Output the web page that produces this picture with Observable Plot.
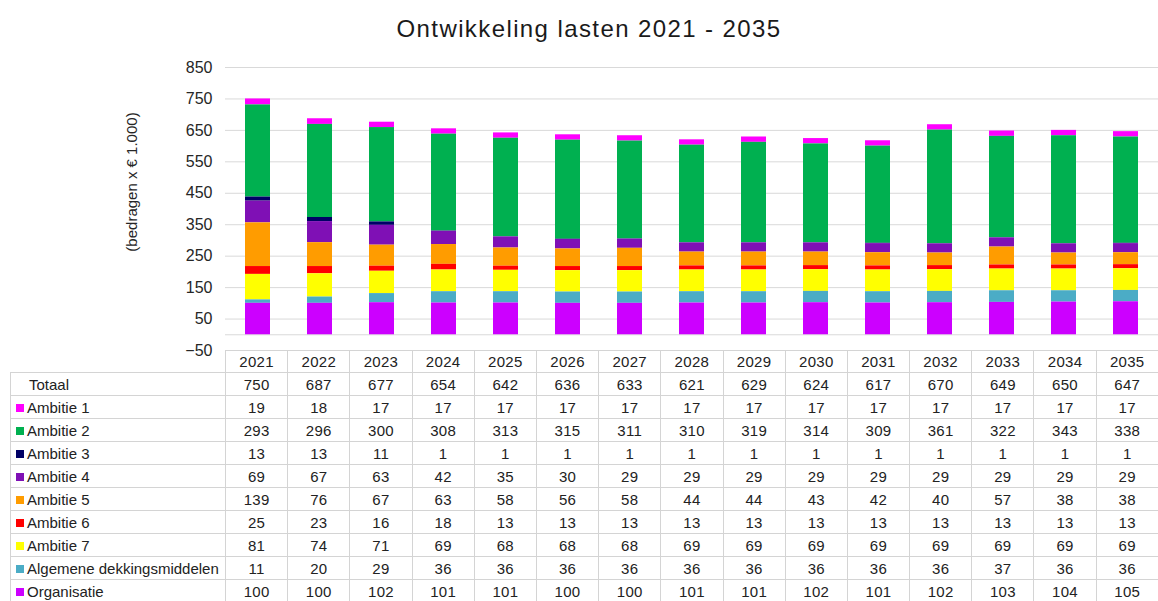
<!DOCTYPE html>
<html>
<head>
<meta charset="utf-8">
<script src="https://cdn.jsdelivr.net/npm/d3@7"></script>
<script src="https://cdn.jsdelivr.net/npm/@observablehq/plot@0.6"></script>
<style>
  html, body { margin: 0; padding: 0; background: #fff; }
  body { width: 1158px; height: 601px; position: relative; overflow: hidden; font-family: "Liberation Sans", Arial, sans-serif; }
  #title { position: absolute; top: 17px; left: 0; width: 1178px; text-align: center; font-size: 24px; line-height: 24px; letter-spacing: 1.4px; color: #1a1a1a; }
  #chart { position: absolute; top: 50px; left: 0; }
  #tbl { position: absolute; top: 350px; left: 10px; border-collapse: collapse; table-layout: fixed; width: 1148px; font-size: 15px; color: #222; letter-spacing: 0.3px; }
  #tbl td { border: 1px solid #d4d4d4; padding: 0; text-align: center; height: 22px; white-space: nowrap; overflow: hidden; }
  #tbl tr.hdr td { height: 21px; }
  #tbl td.lab { text-align: left; padding-left: 5px; letter-spacing: 0; }
  #tbl td.empty { border-top: none; border-left: none; }
  .sw { display: inline-block; width: 8px; height: 8px; margin-right: 3px; vertical-align: 1px; }
</style>
</head>
<body>
<div id="title"></div>
<div id="chart"></div>
<table id="tbl"></table>
<script>
const titleText = "Ontwikkeling lasten 2021 - 2035";
const yLabel = "(bedragen x € 1.000)";
const years = [2021, 2022, 2023, 2024, 2025, 2026, 2027, 2028, 2029, 2030, 2031, 2032, 2033, 2034, 2035];
const totaal      = [750, 687, 677, 654, 642, 636, 633, 621, 629, 624, 617, 670, 649, 650, 647];
const ambitie1    = [19, 18, 17, 17, 17, 17, 17, 17, 17, 17, 17, 17, 17, 17, 17];
const ambitie2    = [293, 296, 300, 308, 313, 315, 311, 310, 319, 314, 309, 361, 322, 343, 338];
const ambitie3    = [13, 13, 11, 1, 1, 1, 1, 1, 1, 1, 1, 1, 1, 1, 1];
const ambitie4    = [69, 67, 63, 42, 35, 30, 29, 29, 29, 29, 29, 29, 29, 29, 29];
const ambitie5    = [139, 76, 67, 63, 58, 56, 58, 44, 44, 43, 42, 40, 57, 38, 38];
const ambitie6    = [25, 23, 16, 18, 13, 13, 13, 13, 13, 13, 13, 13, 13, 13, 13];
const ambitie7    = [81, 74, 71, 69, 68, 68, 68, 69, 69, 69, 69, 69, 69, 69, 69];
const algemene    = [11, 20, 29, 36, 36, 36, 36, 36, 36, 36, 36, 36, 37, 36, 36];
const organisatie = [100, 100, 102, 101, 101, 100, 100, 101, 101, 102, 101, 102, 103, 104, 105];
const yTicks = [-50, 50, 150, 250, 350, 450, 550, 650, 750, 850];

// table order (top to bottom) and colours
const seriesNames = ["Ambitie 1", "Ambitie 2", "Ambitie 3", "Ambitie 4", "Ambitie 5", "Ambitie 6", "Ambitie 7", "Algemene dekkingsmiddelen", "Organisatie"];
const seriesValues = [ambitie1, ambitie2, ambitie3, ambitie4, ambitie5, ambitie6, ambitie7, algemene, organisatie];
const seriesColors = ["#FF00FF", "#00B050", "#000066", "#7F10B5", "#FF9C00", "#FF0000", "#FFFF00", "#4BACC6", "#CC00FF"];
const stackOrder = seriesNames.slice().reverse(); // bottom to top

const data = [];
seriesNames.forEach((s, i) => years.forEach((y, j) => data.push({year: y, series: s, value: seriesValues[i][j]})));

document.getElementById("title").textContent = titleText;

const chart = Plot.plot({
  width: 1158,
  height: 320,
  marginTop: 17,
  marginBottom: 20,
  marginLeft: 225,
  marginRight: 0,
  style: {fontFamily: "'Liberation Sans', Arial, sans-serif", background: "transparent", overflow: "visible"},
  x: {type: "band", domain: years, paddingInner: 0.6, paddingOuter: 0.3, axis: null},
  y: {domain: [-50, 850]},
  color: {domain: seriesNames, range: seriesColors},
  marks: [
    Plot.gridY(yTicks, {stroke: "#d9d9d9", strokeOpacity: 1}),
    Plot.ruleY([0], {stroke: "#d9d9d9"}),
    Plot.barY(data, {x: "year", y: "value", fill: "series", order: stackOrder}),
    Plot.axisY(yTicks, {tickSize: 0, tickPadding: 13, fontSize: 16, fill: "#262626", label: null}),
    Plot.text([yLabel], {frameAnchor: "left", textAnchor: "middle", dx: -93, dy: -27, rotate: -90, fontSize: 15, fill: "#262626"})
  ]
});
document.getElementById("chart").appendChild(chart);

// data table under the chart
const tbl = document.getElementById("tbl");
const cg = document.createElement("colgroup");
const c0 = document.createElement("col"); c0.style.width = "215px"; cg.appendChild(c0);
years.forEach(() => { const c = document.createElement("col"); c.style.width = "62.2px"; cg.appendChild(c); });
tbl.appendChild(cg);

const hdr = document.createElement("tr"); hdr.className = "hdr";
const e = document.createElement("td"); e.className = "empty"; hdr.appendChild(e);
years.forEach(y => { const td = document.createElement("td"); td.textContent = y; hdr.appendChild(td); });
tbl.appendChild(hdr);

function addRow(name, values, color) {
  const tr = document.createElement("tr");
  const lab = document.createElement("td"); lab.className = "lab";
  if (color) {
    const sw = document.createElement("span"); sw.className = "sw"; sw.style.background = color; lab.appendChild(sw);
  } else {
    lab.style.paddingLeft = "18px";
  }
  lab.appendChild(document.createTextNode(name));
  tr.appendChild(lab);
  values.forEach(v => { const td = document.createElement("td"); td.textContent = v; tr.appendChild(td); });
  tbl.appendChild(tr);
}
addRow("Totaal", totaal, null);
seriesNames.forEach((s, i) => addRow(s, seriesValues[i], seriesColors[i]));
</script>
</body>
</html>
